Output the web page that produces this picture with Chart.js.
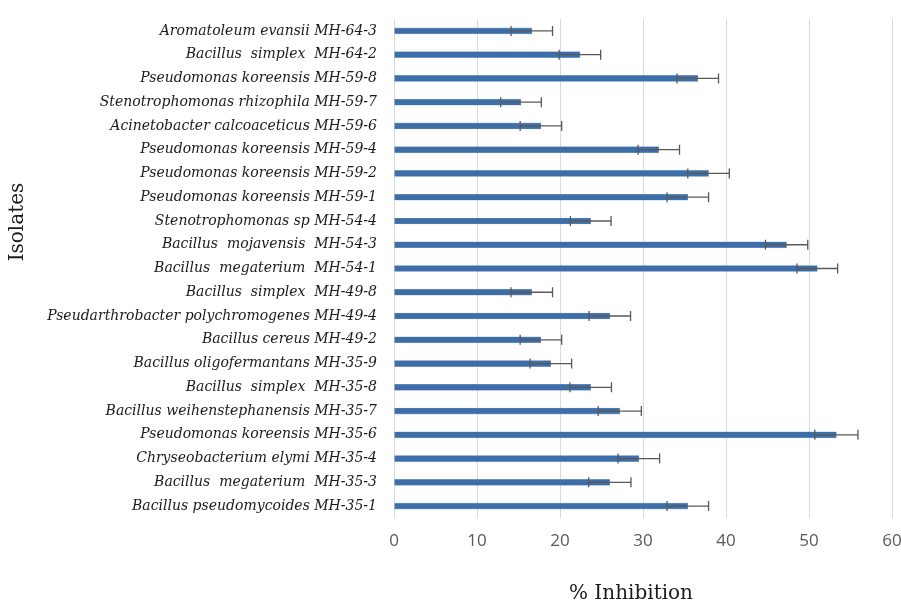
<!DOCTYPE html>
<html>
<head>
<meta charset="utf-8">
<script src="https://cdn.jsdelivr.net/npm/chart.js@4"></script>
<style>
  html, body { margin: 0; padding: 0; background: #fff; }
  canvas { display: block; }
</style>
</head>
<body>
<canvas id="chart" width="901" height="603"></canvas>
<script>
// isolates, top to bottom as in the figure
const isolates = [
    'Aromatoleum evansii MH-64-3',
    'Bacillus  simplex  MH-64-2',
    'Pseudomonas koreensis MH-59-8',
    'Stenotrophomonas rhizophila MH-59-7',
    'Acinetobacter calcoaceticus MH-59-6',
    'Pseudomonas koreensis MH-59-4',
    'Pseudomonas koreensis MH-59-2',
    'Pseudomonas koreensis MH-59-1',
    'Stenotrophomonas sp MH-54-4',
    'Bacillus  mojavensis  MH-54-3',
    'Bacillus  megaterium  MH-54-1',
    'Bacillus  simplex  MH-49-8',
    'Pseudarthrobacter polychromogenes MH-49-4',
    'Bacillus cereus MH-49-2',
    'Bacillus oligofermantans MH-35-9',
    'Bacillus  simplex  MH-35-8',
    'Bacillus weihenstephanensis MH-35-7',
    'Pseudomonas koreensis MH-35-6',
    'Chryseobacterium elymi MH-35-4',
    'Bacillus  megaterium  MH-35-3',
    'Bacillus pseudomycoides MH-35-1'
];

const inhibition = [16.6, 22.4, 36.6, 15.3, 17.7, 31.9, 37.9, 35.4, 23.7, 47.3, 51.0,
                    16.6, 26.0, 17.7, 18.9, 23.7, 27.2, 53.3, 29.5, 26.0, 35.4];

const errors = [2.5, 2.5, 2.5, 2.45, 2.5, 2.5, 2.5, 2.5, 2.45, 2.55, 2.45,
                2.5, 2.5, 2.5, 2.5, 2.5, 2.6, 2.6, 2.5, 2.55, 2.5];

const xTicks = [0, 10, 20, 30, 40, 50, 60];

const labelFont = '"DejaVu Serif", serif';

// error bars drawn on top of the bars
const errorBarPlugin = {
    id: 'errorBars',
    afterDatasetsDraw: function(chart) {
        const ctx = chart.ctx;
        const xScale = chart.scales.x;
        const meta = chart.getDatasetMeta(0);
        ctx.save();
        ctx.strokeStyle = '#595959';
        ctx.lineWidth = 1.3;
        meta.data.forEach(function(bar, i) {
            const lo = xScale.getPixelForValue(inhibition[i] - errors[i]);
            const hi = xScale.getPixelForValue(inhibition[i] + errors[i]);
            const y = bar.y;
            ctx.beginPath();
            ctx.moveTo(lo, y);
            ctx.lineTo(hi, y);
            ctx.moveTo(lo, y - 5);
            ctx.lineTo(lo, y + 5);
            ctx.moveTo(hi, y - 5);
            ctx.lineTo(hi, y + 5);
            ctx.stroke();
        });
        ctx.restore();
    }
};

// axis titles placed like the original figure
const axisTitlePlugin = {
    id: 'axisTitles',
    afterDraw: function(chart) {
        const ctx = chart.ctx;
        ctx.save();
        ctx.fillStyle = '#1a1a1a';
        ctx.font = '20px ' + labelFont;
        ctx.textAlign = 'center';
        ctx.textBaseline = 'middle';
        ctx.fillText('% Inhibition', 631, 594);
        ctx.translate(18, 222);
        ctx.rotate(-Math.PI / 2);
        ctx.fillText('Isolates', 0, 0);
        ctx.restore();
    }
};

new Chart(document.getElementById('chart').getContext('2d'), {
    type: 'bar',
    data: {
        labels: isolates,
        datasets: [{
            label: '% Inhibition',
            data: inhibition,
            backgroundColor: '#3D6EA7',
            borderColor: 'rgba(110,150,200,0.9)',
            borderWidth: 0.6,
            barThickness: 6
        }]
    },
    options: {
        indexAxis: 'y',
        responsive: false,
        animation: false,
        layout: {
            padding: {top: 19, right: 9, bottom: 0, left: 0}
        },
        scales: {
            x: {
                min: 0,
                max: 60,
                afterBuildTicks: function(scale) {
                    scale.ticks = xTicks.map(v => ({value: v}));
                },
                afterFit: function(scale) {
                    scale.height = 85;
                    scale.paddingLeft = 0;
                    scale.paddingRight = 0;
                },
                grid: {color: '#d9d9d9', lineWidth: 1, drawTicks: false},
                border: {display: false},
                ticks: {
                    color: '#595959',
                    padding: 13,
                    font: {family: '"Open Sans", sans-serif', size: 17}
                }
            },
            y: {
                afterFit: function(scale) {
                    scale.width = 394;
                    scale.paddingTop = 0;
                    scale.paddingBottom = 0;
                },
                grid: {display: false, drawTicks: false},
                border: {display: false},
                ticks: {
                    color: '#1a1a1a',
                    padding: 17,
                    autoSkip: false,
                    font: {family: labelFont, size: 14, style: 'italic'}
                }
            }
        },
        plugins: {
            legend: {display: false},
            tooltip: {enabled: false}
        }
    },
    plugins: [errorBarPlugin, axisTitlePlugin]
});
</script>
</body>
</html>
